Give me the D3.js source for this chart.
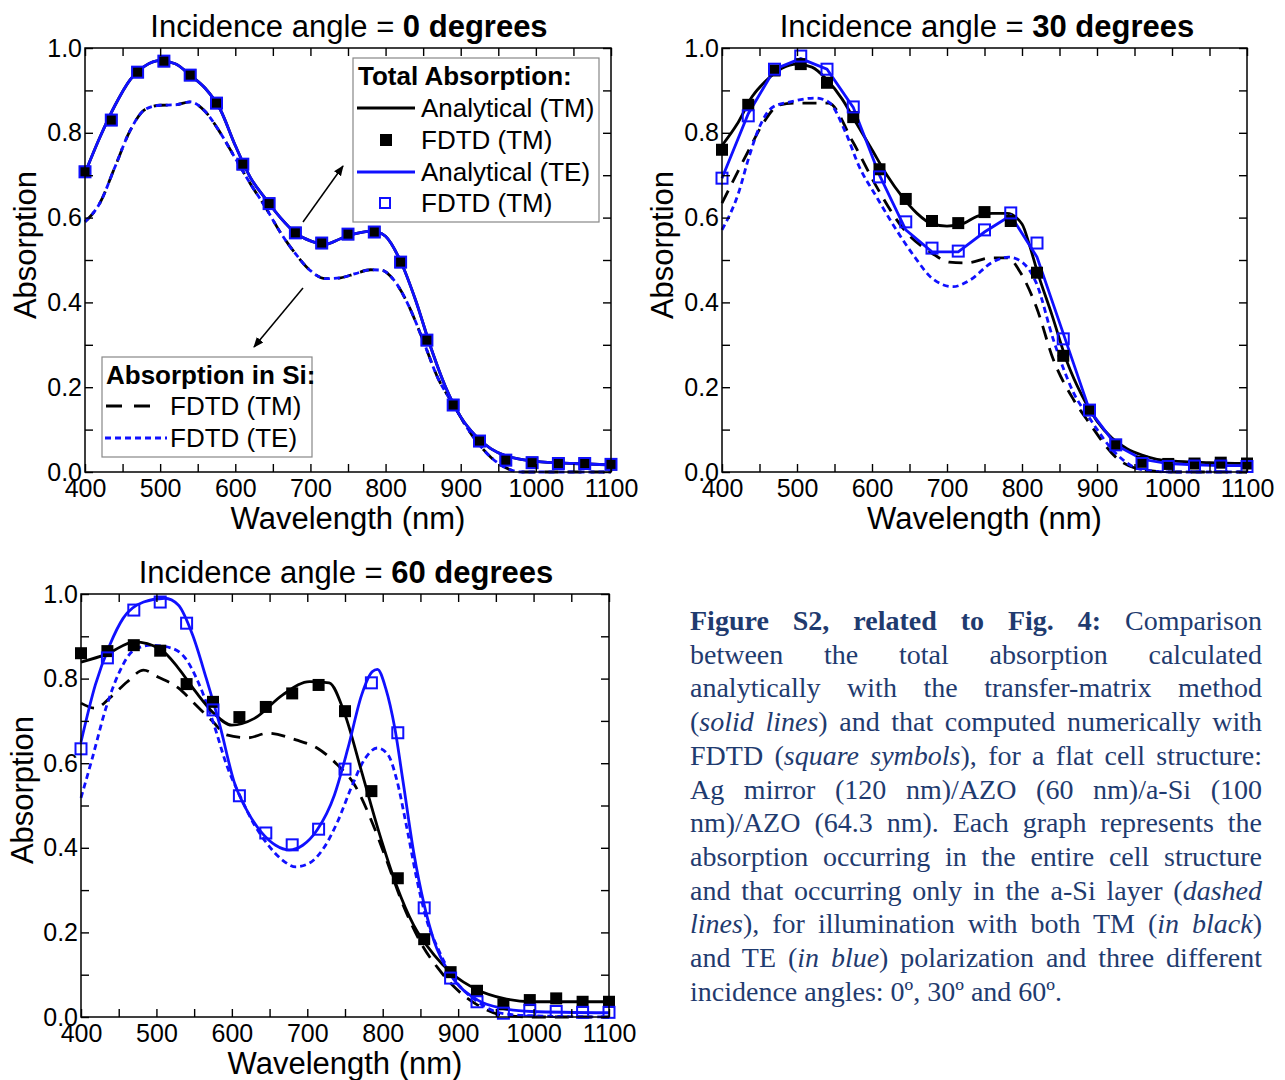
<!DOCTYPE html>
<html>
<head>
<meta charset="utf-8">
<script src="https://cdn.jsdelivr.net/npm/d3@7"></script>
<style>
  body { margin: 0; background: #fff; }
  #chart { position: absolute; left: 0; top: 0; }
  #caption {
    position: absolute; left: 690px; top: 604px; width: 572px;
    font-family: "Liberation Serif", "Times New Roman", serif;
    font-size: 28px; line-height: 33.7px; color: #1f3b6f;
  }
  #caption .ln { display: block; text-align: justify; text-align-last: justify; }
  #caption .ln.last { text-align-last: left; }
</style>
</head>
<body>
<div id="chart"></div>
<div id="caption">
  <span class="ln"><b>Figure S2, related to Fig. 4:</b> Comparison</span>
  <span class="ln">between the total absorption calculated</span>
  <span class="ln">analytically with the transfer-matrix method</span>
  <span class="ln">(<i>solid lines</i>) and that computed numerically with</span>
  <span class="ln">FDTD (<i>square symbols</i>), for a flat cell structure:</span>
  <span class="ln">Ag mirror (120 nm)/AZO (60 nm)/a-Si (100</span>
  <span class="ln">nm)/AZO (64.3 nm). Each graph represents the</span>
  <span class="ln">absorption occurring in the entire cell structure</span>
  <span class="ln">and that occurring only in the a-Si layer (<i>dashed</i></span>
  <span class="ln"><i>lines</i>), for illumination with both TM (<i>in black</i>)</span>
  <span class="ln">and TE (<i>in blue</i>) polarization and three different</span>
  <span class="ln last">incidence angles: 0º, 30º and 60º.</span>
</div>
<script>
// wavelengths of the FDTD square symbols (same for every panel)
const fdtdNm = [400, 435, 470, 505, 540, 575, 610, 645, 680, 715, 750, 785, 820, 855, 890, 925, 960, 995, 1030, 1065, 1100];

// ---- 0 degrees (TM and TE coincide) ----
const p0Fdtd = [0.708, 0.83, 0.943, 0.969, 0.936, 0.87, 0.726, 0.633, 0.564, 0.54, 0.561, 0.566, 0.495, 0.311, 0.158, 0.073, 0.028, 0.022, 0.02, 0.02, 0.018];
const p0AnaNm = [400, 420, 440, 460, 480, 500, 520, 540, 560, 580, 600, 620, 640, 660, 680, 700, 720, 740, 760, 780, 790, 800, 820, 840, 860, 880, 900, 920, 940, 960, 980, 1000, 1050, 1100];
const p0Ana = [0.705, 0.79, 0.865, 0.925, 0.958, 0.97, 0.963, 0.936, 0.905, 0.855, 0.77, 0.695, 0.645, 0.6, 0.564, 0.545, 0.537, 0.55, 0.562, 0.568, 0.566, 0.556, 0.497, 0.405, 0.295, 0.2, 0.13, 0.085, 0.055, 0.038, 0.03, 0.025, 0.02, 0.017];
const p0SiNm = [400, 420, 440, 460, 480, 500, 520, 540, 560, 580, 600, 620, 640, 660, 680, 700, 720, 740, 760, 780, 795, 810, 830, 850, 870, 890, 910, 920, 940, 960, 980, 1100];
const p0Si = [0.59, 0.635, 0.72, 0.805, 0.855, 0.865, 0.866, 0.873, 0.85, 0.8, 0.74, 0.68, 0.625, 0.565, 0.515, 0.475, 0.456, 0.458, 0.468, 0.477, 0.476, 0.455, 0.395, 0.31, 0.22, 0.16, 0.1, 0.075, 0.035, 0.01, 0, 0];

// ---- 30 degrees ----
const p30FdtdTM = [0.76, 0.866, 0.947, 0.962, 0.918, 0.837, 0.714, 0.644, 0.592, 0.587, 0.613, 0.592, 0.47, 0.274, 0.146, 0.064, 0.024, 0.019, 0.02, 0.022, 0.02];
const p30FdtdTE = [0.693, 0.84, 0.95, 0.981, 0.95, 0.861, 0.696, 0.59, 0.528, 0.521, 0.571, 0.611, 0.54, 0.314, 0.146, 0.064, 0.02, 0.013, 0.014, 0.014, 0.013];
const p30AnaTMNm = [400, 420, 440, 460, 480, 500, 520, 540, 560, 580, 600, 620, 640, 660, 680, 700, 720, 740, 760, 780, 800, 810, 820, 840, 860, 880, 900, 920, 940, 960, 980, 1000, 1050, 1100];
const p30AnaTM = [0.77, 0.82, 0.885, 0.925, 0.952, 0.962, 0.955, 0.925, 0.88, 0.82, 0.76, 0.7, 0.65, 0.61, 0.585, 0.58, 0.585, 0.603, 0.61, 0.61, 0.585, 0.535, 0.475, 0.37, 0.26, 0.18, 0.12, 0.08, 0.055, 0.04, 0.03, 0.026, 0.022, 0.02];
const p30AnaTE = [0.693, 0.845, 0.95, 0.975, 0.95, 0.86, 0.7, 0.571, 0.519, 0.519, 0.566, 0.605, 0.507, 0.327, 0.146, 0.064, 0.03, 0.02, 0.017, 0.015, 0.015];
const p30SiTMNm = [400, 436, 454, 477, 500, 542, 574, 606, 643, 680, 703, 726, 759, 782, 796, 819, 842, 869, 890, 925, 961, 1000, 1100];
const p30SiTM = [0.634, 0.76, 0.82, 0.866, 0.87, 0.87, 0.78, 0.673, 0.571, 0.516, 0.495, 0.493, 0.505, 0.505, 0.476, 0.39, 0.264, 0.17, 0.115, 0.035, 0.005, 0, 0];
const p30SiTENm = [400, 422, 436, 450, 468, 491, 524, 542, 565, 583, 606, 630, 657, 680, 708, 731, 759, 782, 800, 819, 842, 869, 890, 925, 961, 1000, 1100];
const p30SiTE = [0.571, 0.658, 0.743, 0.814, 0.861, 0.873, 0.882, 0.873, 0.8, 0.72, 0.649, 0.578, 0.507, 0.457, 0.437, 0.453, 0.493, 0.507, 0.495, 0.446, 0.311, 0.186, 0.127, 0.044, 0.005, 0, 0];

// ---- 60 degrees ----
const p60FdtdTM = [0.86, 0.865, 0.879, 0.866, 0.787, 0.745, 0.709, 0.733, 0.765, 0.785, 0.723, 0.534, 0.328, 0.184, 0.106, 0.062, 0.03, 0.04, 0.044, 0.036, 0.036];
const p60FdtdTE = [0.634, 0.849, 0.962, 0.981, 0.931, 0.726, 0.523, 0.435, 0.407, 0.444, 0.586, 0.79, 0.672, 0.258, 0.092, 0.036, 0.009, 0.016, 0.013, 0.011, 0.011];
const p60AnaTMNm = [400, 434, 471, 505, 529, 552, 575, 600, 630, 667, 703, 729, 749, 772, 795, 818, 841, 868, 891, 926, 960, 997, 1100];
const p60AnaTM = [0.839, 0.858, 0.887, 0.87, 0.825, 0.769, 0.72, 0.69, 0.706, 0.761, 0.793, 0.79, 0.72, 0.58, 0.437, 0.312, 0.217, 0.147, 0.104, 0.064, 0.044, 0.036, 0.036];
const p60AnaTENm = [400, 419, 438, 456, 483, 511, 529, 548, 566, 584, 603, 621, 639, 658, 676, 694, 713, 736, 754, 772, 786, 793, 804, 816, 827, 841, 855, 868, 890, 926, 960, 997, 1100];
const p60AnaTE = [0.65, 0.785, 0.879, 0.943, 0.981, 0.99, 0.974, 0.903, 0.801, 0.69, 0.556, 0.485, 0.437, 0.406, 0.395, 0.406, 0.442, 0.525, 0.636, 0.761, 0.816, 0.822, 0.777, 0.683, 0.556, 0.39, 0.265, 0.18, 0.1, 0.04, 0.02, 0.013, 0.01];
const p60SiTMNm = [400, 419, 438, 461, 483, 502, 529, 552, 575, 593, 621, 648, 685, 713, 740, 763, 786, 804, 827, 850, 873, 896, 926, 960, 1000, 1100];
const p60SiTM = [0.742, 0.73, 0.754, 0.792, 0.82, 0.804, 0.778, 0.738, 0.698, 0.667, 0.66, 0.671, 0.655, 0.636, 0.596, 0.548, 0.46, 0.376, 0.265, 0.177, 0.116, 0.069, 0.028, 0.004, 0, 0];
const p60SiTENm = [400, 415, 433, 451, 470, 493, 520, 538, 557, 575, 593, 612, 630, 648, 667, 685, 703, 722, 740, 758, 777, 793, 807, 818, 832, 846, 859, 873, 891, 926, 960, 997, 1100];
const p60SiTE = [0.518, 0.612, 0.73, 0.816, 0.867, 0.879, 0.872, 0.849, 0.785, 0.698, 0.596, 0.518, 0.454, 0.407, 0.371, 0.355, 0.364, 0.4, 0.461, 0.541, 0.612, 0.636, 0.62, 0.565, 0.447, 0.319, 0.225, 0.163, 0.1, 0.036, 0.008, 0.003, 0];

const xTicks = d3.range(400, 1101, 50);
const yTicks = d3.range(0, 11).map(d => d / 10);

const BLUE = "#1010ff";
const FONT = "'Liberation Sans', Arial, sans-serif";

const zip = (xs, ys) => xs.map((x, i) => [x, ys[i]]);

const panels = [
  {
    angle: "0 degrees", box: { l: 85, r: 611, t: 48, b: 472 }, ylab: [25, 245], titleX: 349,
    si: [[p0SiNm, p0Si, "tm"], [p0SiNm, p0Si, "te"]],
    ana: [[p0AnaNm, p0Ana, "tm", d3.curveMonotoneX], [p0AnaNm, p0Ana, "te", d3.curveMonotoneX]],
    fdtd: [p0Fdtd, p0Fdtd]
  },
  {
    angle: "30 degrees", box: { l: 722, r: 1247, t: 48, b: 472 }, ylab: [662, 245], titleX: 987,
    si: [[p30SiTMNm, p30SiTM, "tm"], [p30SiTENm, p30SiTE, "te"]],
    ana: [[p30AnaTMNm, p30AnaTM, "tm", d3.curveMonotoneX], [fdtdNm, p30AnaTE, "te", d3.curveLinear]],
    fdtd: [p30FdtdTM, p30FdtdTE]
  },
  {
    angle: "60 degrees", box: { l: 81, r: 609, t: 594, b: 1017 }, ylab: [22, 790], titleX: 346,
    si: [[p60SiTMNm, p60SiTM, "tm"], [p60SiTENm, p60SiTE, "te"]],
    ana: [[p60AnaTMNm, p60AnaTM, "tm", d3.curveMonotoneX], [p60AnaTENm, p60AnaTE, "te", d3.curveMonotoneX]],
    fdtd: [p60FdtdTM, p60FdtdTE]
  }
];

const svg = d3.select("#chart").append("svg")
  .attr("width", 1285).attr("height", 1080)
  .style("font-family", FONT);

panels.forEach(p => {
  const x = d3.scaleLinear().domain([400, 1100]).range([p.box.l, p.box.r]);
  const y = d3.scaleLinear().domain([0, 1]).range([p.box.b, p.box.t]);
  const g = svg.append("g");

  // curves: Si absorption (dashed) first, then analytical
  p.si.forEach(([xs, ys, pol]) => {
    const line = d3.line().x(d => x(d[0])).y(d => y(d[1])).curve(d3.curveMonotoneX);
    g.append("path").datum(zip(xs, ys))
      .attr("fill", "none")
      .attr("stroke", pol === "tm" ? "#000" : BLUE)
      .attr("stroke-width", 2.8)
      .attr("stroke-dasharray", pol === "tm" ? "14,9" : "6,4")
      .attr("d", line);
  });
  p.ana.forEach(([xs, ys, pol, curve]) => {
    const line = d3.line().x(d => x(d[0])).y(d => y(d[1])).curve(curve);
    g.append("path").datum(zip(xs, ys))
      .attr("fill", "none")
      .attr("stroke", pol === "tm" ? "#000" : BLUE)
      .attr("stroke-width", 2.8)
      .attr("d", line);
  });

  // FDTD squares
  g.selectAll(null).data(zip(fdtdNm, p.fdtd[0])).join("rect")
    .attr("x", d => x(d[0]) - 6).attr("y", d => y(d[1]) - 6)
    .attr("width", 12).attr("height", 12).attr("fill", "#000");
  g.selectAll(null).data(zip(fdtdNm, p.fdtd[1])).join("rect")
    .attr("x", d => x(d[0]) - 5.5).attr("y", d => y(d[1]) - 5.5)
    .attr("width", 11).attr("height", 11)
    .attr("fill", "none").attr("stroke", BLUE).attr("stroke-width", 2);

  // axes with inward ticks on all four sides
  const axisStyle = sel => {
    sel.select(".domain").remove();
    sel.selectAll("line").attr("stroke", "#000").attr("stroke-width", 1.4);
    sel.selectAll("text").attr("font-family", FONT).attr("font-size", 25).attr("fill", "#000");
  };
  g.append("g").attr("transform", `translate(0,${p.box.b})`)
    .call(d3.axisBottom(x).tickValues(xTicks).tickSizeInner(-8).tickSizeOuter(0).tickPadding(7)
      .tickFormat(d => d % 100 === 0 ? d : ""))
    .call(axisStyle);
  g.append("g").attr("transform", `translate(0,${p.box.t})`)
    .call(d3.axisTop(x).tickValues(xTicks).tickSizeInner(-8).tickSizeOuter(0).tickFormat(""))
    .call(axisStyle);
  g.append("g").attr("transform", `translate(${p.box.l},0)`)
    .call(d3.axisLeft(y).tickValues(yTicks).tickSizeInner(-8).tickSizeOuter(0).tickPadding(3)
      .tickFormat(d => Math.round(d * 10) % 2 === 0 ? d3.format(".1f")(d) : ""))
    .call(axisStyle);
  g.append("g").attr("transform", `translate(${p.box.r},0)`)
    .call(d3.axisRight(y).tickValues(yTicks).tickSizeInner(-8).tickSizeOuter(0).tickFormat(""))
    .call(axisStyle);

  g.append("rect")
    .attr("x", p.box.l).attr("y", p.box.t)
    .attr("width", p.box.r - p.box.l).attr("height", p.box.b - p.box.t)
    .attr("fill", "none").attr("stroke", "#000").attr("stroke-width", 1.5);

  // titles
  const title = g.append("text").attr("x", p.titleX).attr("y", p.box.t - 11)
    .attr("text-anchor", "middle").attr("font-size", 31);
  title.append("tspan").text("Incidence angle = ");
  title.append("tspan").attr("font-weight", "bold").text(p.angle);

  g.append("text").attr("x", (p.box.l + p.box.r) / 2).attr("y", p.box.b + 57)
    .attr("text-anchor", "middle").attr("font-size", 31).text("Wavelength (nm)");

  g.append("text")
    .attr("transform", `translate(${p.ylab[0]},${p.ylab[1]}) rotate(-90)`)
    .attr("text-anchor", "middle").attr("dy", "0.35em").attr("font-size", 31).text("Absorption");
});

// ---- legends and arrows of the first panel ----
const leg = svg.append("g").attr("font-size", 26);

leg.append("rect").attr("x", 353).attr("y", 58).attr("width", 246).attr("height", 164)
  .attr("fill", "#fff").attr("stroke", "#888").attr("stroke-width", 1.2);
leg.append("text").attr("x", 358).attr("y", 85).attr("font-weight", "bold").text("Total Absorption:");
const rows1 = [
  { label: "Analytical (TM)", kind: "line", color: "#000", yy: 108 },
  { label: "FDTD (TM)", kind: "fill", color: "#000", yy: 140 },
  { label: "Analytical (TE)", kind: "line", color: BLUE, yy: 172 },
  { label: "FDTD (TM)", kind: "open", color: BLUE, yy: 203 }
];
rows1.forEach(r => {
  if (r.kind === "line") {
    leg.append("line").attr("x1", 357).attr("x2", 415).attr("y1", r.yy).attr("y2", r.yy)
      .attr("stroke", r.color).attr("stroke-width", 2.8);
  } else if (r.kind === "fill") {
    leg.append("rect").attr("x", 380).attr("y", r.yy - 6).attr("width", 12).attr("height", 12).attr("fill", r.color);
  } else {
    leg.append("rect").attr("x", 380).attr("y", r.yy - 5).attr("width", 10).attr("height", 10)
      .attr("fill", "none").attr("stroke", r.color).attr("stroke-width", 2);
  }
  leg.append("text").attr("x", 421).attr("y", r.yy).attr("dy", "0.35em").text(r.label);
});

leg.append("rect").attr("x", 102).attr("y", 357).attr("width", 210).attr("height", 100)
  .attr("fill", "#fff").attr("stroke", "#888").attr("stroke-width", 1.2);
leg.append("text").attr("x", 106).attr("y", 384).attr("font-weight", "bold").text("Absorption in Si:");
leg.append("line").attr("x1", 106).attr("x2", 150).attr("y1", 406).attr("y2", 406)
  .attr("stroke", "#000").attr("stroke-width", 2.8).attr("stroke-dasharray", "16,12");
leg.append("text").attr("x", 170).attr("y", 406).attr("dy", "0.35em").text("FDTD (TM)");
leg.append("line").attr("x1", 105).attr("x2", 167).attr("y1", 438).attr("y2", 438)
  .attr("stroke", BLUE).attr("stroke-width", 2.8).attr("stroke-dasharray", "6,4");
leg.append("text").attr("x", 170).attr("y", 438).attr("dy", "0.35em").text("FDTD (TE)");

svg.append("defs").append("marker")
  .attr("id", "arr").attr("viewBox", "0 0 10 10").attr("refX", 9).attr("refY", 5)
  .attr("markerWidth", 7).attr("markerHeight", 7).attr("orient", "auto")
  .append("path").attr("d", "M0,1 L10,5 L0,9 Z").attr("fill", "#000");
[[303, 222, 343, 166], [303, 288, 254, 347]].forEach(([x1, y1, x2, y2]) => {
  svg.append("line").attr("x1", x1).attr("y1", y1).attr("x2", x2).attr("y2", y2)
    .attr("stroke", "#000").attr("stroke-width", 1.5).attr("marker-end", "url(#arr)");
});
</script>
</body>
</html>
